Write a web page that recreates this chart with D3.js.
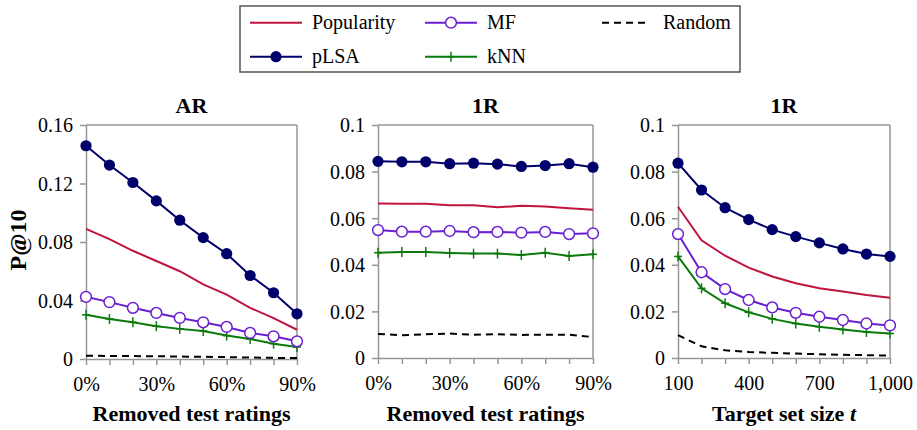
<!DOCTYPE html>
<html>
<head>
<meta charset="utf-8">
<script src="https://cdn.jsdelivr.net/npm/d3@7"></script>
<style>
  svg text, svg tspan { font-family: "Liberation Serif" !important; }
</style>
</head>
<body style="margin:0">
<svg id="chart" width="917" height="430" font-family="Liberation Serif"></svg>
<script>
// ---------- data ----------
const seriesNames = ["Popularity", "pLSA", "MF", "kNN", "Random"];

const removedCategories = ["0%", "10%", "20%", "30%", "40%", "50%", "60%", "70%", "80%", "90%"];
const removedTickLabels = ["0%", "30%", "60%", "90%"];
const targetCategories = ["100", "200", "300", "400", "500", "600", "700", "800", "900", "1,000"];
const targetTickLabels = ["100", "400", "700", "1,000"];

const arTicks = [0, 0.04, 0.08, 0.12, 0.16];
const arTickLabels = ["0", "0.04", "0.08", "0.12", "0.16"];
const oneRTicks = [0, 0.02, 0.04, 0.06, 0.08, 0.1];
const oneRTickLabels = ["0", "0.02", "0.04", "0.06", "0.08", "0.1"];

// Panel 1: AR vs removed test ratings
const arPopularity = [0.089, 0.082, 0.074, 0.067, 0.060, 0.051, 0.044, 0.035, 0.028, 0.020];
const arPLSA       = [0.1458, 0.1326, 0.1207, 0.1081, 0.0949, 0.0830, 0.0720, 0.0571, 0.0453, 0.0309];
const arMF         = [0.0425, 0.0389, 0.0350, 0.0315, 0.0281, 0.0251, 0.0219, 0.0178, 0.0155, 0.0121];
const arKNN        = [0.0302, 0.0274, 0.0251, 0.0224, 0.0206, 0.0192, 0.0160, 0.0137, 0.0105, 0.0082];
const arRandom     = [0.0022, 0.0021, 0.0020, 0.0019, 0.0017, 0.0015, 0.0013, 0.0010, 0.0008, 0.0006];

// Panel 2: 1R vs removed test ratings
const rmPopularity = [0.0663, 0.0662, 0.0662, 0.0656, 0.0656, 0.0647, 0.0653, 0.0650, 0.0643, 0.0636];
const rmPLSA       = [0.0844, 0.0842, 0.0842, 0.0834, 0.0836, 0.0832, 0.0822, 0.0826, 0.0834, 0.0819];
const rmMF         = [0.0549, 0.0542, 0.0542, 0.0545, 0.0540, 0.0541, 0.0538, 0.0541, 0.0532, 0.0535];
const rmKNN        = [0.0452, 0.0455, 0.0455, 0.0451, 0.0448, 0.0448, 0.0442, 0.0452, 0.0438, 0.0445];
const rmRandom     = [0.0103, 0.0098, 0.0102, 0.0105, 0.0100, 0.0102, 0.0099, 0.0100, 0.0100, 0.0090];

// Panel 3: 1R vs target set size t
const tsPopularity = [0.0649, 0.0505, 0.0439, 0.0388, 0.0350, 0.0321, 0.0299, 0.0285, 0.0270, 0.0259];
const tsPLSA       = [0.0836, 0.0721, 0.0645, 0.0594, 0.0551, 0.0521, 0.0494, 0.0468, 0.0446, 0.0436];
const tsMF         = [0.0532, 0.0368, 0.0296, 0.0249, 0.0217, 0.0194, 0.0177, 0.0163, 0.0148, 0.0140];
const tsKNN        = [0.0436, 0.0299, 0.0235, 0.0196, 0.0168, 0.0148, 0.0134, 0.0122, 0.0112, 0.0105];
const tsRandom     = [0.0098, 0.0050, 0.0033, 0.0026, 0.0022, 0.0019, 0.0016, 0.0014, 0.0012, 0.0010];

// ---------- styles ----------
const FONT = "Liberation Serif";
const styles = {
  Popularity: { color: "#c0143c", marker: "none", dash: null },
  pLSA:       { color: "#00006b", marker: "dot", dash: null },
  MF:         { color: "#6a1fd2", marker: "circle", dash: null },
  kNN:        { color: "#0b7a0b", marker: "plus", dash: null },
  Random:     { color: "#000000", marker: "none", dash: "7,5" }
};
const axisColor = "#969696";

const panels = [
  { title: "AR", xCats: removedCategories, xLabels: removedTickLabels, yMax: 0.16,
    yTicks: arTicks, yTickLabels: arTickLabels, xTitle: ["Removed test ratings"],
    series: { Popularity: arPopularity, pLSA: arPLSA, MF: arMF, kNN: arKNN, Random: arRandom },
    box: { x0: 86, x1: 297, y0: 125, y1: 359 } },
  { title: "1R", xCats: removedCategories, xLabels: removedTickLabels, yMax: 0.1,
    yTicks: oneRTicks, yTickLabels: oneRTickLabels, xTitle: ["Removed test ratings"],
    series: { Popularity: rmPopularity, pLSA: rmPLSA, MF: rmMF, kNN: rmKNN, Random: rmRandom },
    box: { x0: 378, x1: 593, y0: 125, y1: 358 } },
  { title: "1R", xCats: targetCategories, xLabels: targetTickLabels, yMax: 0.1,
    yTicks: oneRTicks, yTickLabels: oneRTickLabels, xTitle: ["Target set size ", "t"],
    series: { Popularity: tsPopularity, pLSA: tsPLSA, MF: tsMF, kNN: tsKNN, Random: tsRandom },
    box: { x0: 678, x1: 890, y0: 125, y1: 358 } }
];

const svg = d3.select("#chart");

function txt(sel) { return sel.style("font-family", FONT, "important").attr("fill", "#000"); }

function drawMarker(g, type, color, x, y) {
  if (type === "dot") {
    g.append("circle").attr("cx", x).attr("cy", y).attr("r", 5.6).attr("fill", color);
  } else if (type === "circle") {
    g.append("circle").attr("cx", x).attr("cy", y).attr("r", 5.4)
      .attr("fill", "#fff").attr("stroke", color).attr("stroke-width", 1.5);
  } else if (type === "plus") {
    g.append("line").attr("x1", x - 4).attr("x2", x + 4).attr("y1", y).attr("y2", y)
      .attr("stroke", color).attr("stroke-width", 1.5);
    g.append("line").attr("x1", x).attr("x2", x).attr("y1", y - 5).attr("y2", y + 5)
      .attr("stroke", color).attr("stroke-width", 1.5);
  }
}

panels.forEach(p => {
  const b = p.box;
  const x = d3.scalePoint().domain(p.xCats).range([b.x0, b.x1]).padding(0);
  const y = d3.scaleLinear().domain([0, p.yMax]).range([b.y1, b.y0]);
  const g = svg.append("g");

  // frame (top and right)
  g.append("line").attr("x1", b.x0).attr("x2", b.x1).attr("y1", b.y0).attr("y2", b.y0)
    .attr("stroke", axisColor).attr("stroke-width", 1.5);
  g.append("line").attr("x1", b.x1).attr("x2", b.x1).attr("y1", b.y0).attr("y2", b.y1)
    .attr("stroke", axisColor).attr("stroke-width", 1.5);

  // y axis
  const yAxis = d3.axisLeft(y).tickValues(p.yTicks)
    .tickFormat((d, i) => p.yTickLabels[i]).tickSizeOuter(0).tickSizeInner(6).tickPadding(7);
  const ya = g.append("g").attr("transform", `translate(${b.x0},0)`).call(yAxis)
    .attr("font-family", FONT).attr("font-size", 20);
  ya.select(".domain").attr("stroke", axisColor).attr("stroke-width", 1.5);
  ya.selectAll(".tick line").attr("stroke", axisColor).attr("stroke-width", 1.5);
  txt(ya.selectAll(".tick text")).attr("dy", "0.34em");

  // x axis
  const xAxis = d3.axisBottom(x)
    .tickFormat(d => p.xLabels.includes(d) ? d : "").tickSizeOuter(0).tickSizeInner(6).tickPadding(12);
  const xa = g.append("g").attr("transform", `translate(0,${b.y1})`).call(xAxis)
    .attr("font-family", FONT).attr("font-size", 20);
  xa.select(".domain").attr("stroke", axisColor).attr("stroke-width", 1.5);
  xa.selectAll(".tick line").attr("stroke", axisColor).attr("stroke-width", 1.5);
  txt(xa.selectAll(".tick text")).attr("dy", "0.71em");

  // title
  txt(g.append("text")).attr("x", (b.x0 + b.x1) / 2).attr("y", 113)
    .attr("text-anchor", "middle").attr("font-size", 22).attr("font-weight", "bold").text(p.title);

  // x title
  const xt = txt(g.append("text")).attr("x", (b.x0 + b.x1) / 2).attr("y", 421)
    .attr("text-anchor", "middle").attr("font-size", 22).attr("font-weight", "bold");
  xt.append("tspan").text(p.xTitle[0]);
  if (p.xTitle[1]) xt.append("tspan").attr("font-style", "italic").text(p.xTitle[1]);

  // lines
  const line = d3.line().x((d, i) => x(p.xCats[i])).y(d => y(d));
  const order = ["Random", "kNN", "MF", "Popularity", "pLSA"];
  order.forEach(name => {
    const s = styles[name];
    const vals = p.series[name];
    g.append("path").datum(vals).attr("d", line).attr("fill", "none")
      .attr("stroke", s.color).attr("stroke-width", 2)
      .attr("stroke-dasharray", s.dash);
    if (s.marker !== "none") {
      vals.forEach((v, i) => drawMarker(g, s.marker, s.color, x(p.xCats[i]), y(v)));
    }
  });
});

// y-axis label
txt(svg.append("text")).attr("transform", "translate(26,240) rotate(-90)")
  .attr("text-anchor", "middle").attr("font-size", 24).attr("font-weight", "bold").text("P@10");

// legend
const lg = svg.append("g");
lg.append("rect").attr("x", 240).attr("y", 6).attr("width", 500).attr("height", 66)
  .attr("fill", "#fff").attr("stroke", "#555").attr("stroke-width", 1.5);
const legendPos = {
  Popularity: { x: 250, y: 22.7 },
  MF: { x: 425, y: 22.7 },
  Random: { x: 602, y: 22.7 },
  pLSA: { x: 250, y: 56.7 },
  kNN: { x: 425, y: 56.7 }
};
seriesNames.forEach(name => {
  const s = styles[name];
  const pos = legendPos[name];
  const len = name === "Random" ? 46 : 52;
  lg.append("line").attr("x1", pos.x).attr("x2", pos.x + len).attr("y1", pos.y).attr("y2", pos.y)
    .attr("stroke", s.color).attr("stroke-width", 2).attr("stroke-dasharray", s.dash);
  if (s.marker !== "none") drawMarker(lg, s.marker, s.color, pos.x + len / 2, pos.y);
  txt(lg.append("text")).attr("x", name === "Random" ? pos.x + 61 : pos.x + 62).attr("y", pos.y + 6.5)
    .attr("font-size", 20).text(name);
});
</script>
</body>
</html>
